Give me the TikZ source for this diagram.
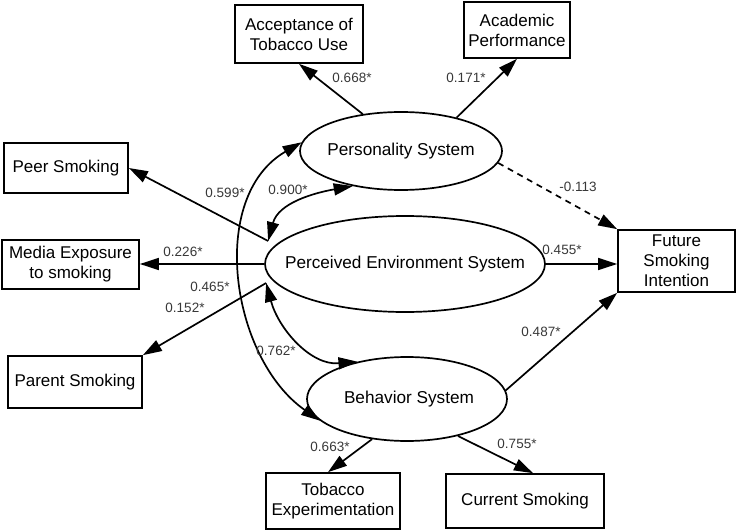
\documentclass[tikz,border=0pt]{standalone}
\usepackage{fontspec}
\setmainfont{Liberation Sans}
\usetikzlibrary{arrows.meta,shapes.geometric}
\begin{document}
\begin{tikzpicture}[x=1pt,y=1pt,
  box/.style={draw,line width=1.7pt,rectangle,inner sep=0pt,align=center,font=\fontsize{17}{20}\selectfont},
  lat/.style={draw,line width=1.7pt,ellipse,inner sep=0pt},
  lattext/.style={font=\fontsize{17.2}{20}\selectfont,inner sep=0pt},
  lab/.style={font=\fontsize{13.5}{16}\selectfont,text=black!78,inner sep=0pt},
  conn/.style={line width=1.7pt,-{Triangle[length=19pt,width=12pt]}},
  dconn/.style={line width=1.7pt,{Triangle[length=19pt,width=12pt]}-{Triangle[length=19pt,width=12pt]}}]
\useasboundingbox (0,0) rectangle (736,-532);

% boxes
\node[box,minimum width=128pt,minimum height=58pt] (acc) at (299,-34) {Acceptance of\\Tobacco Use};
\node[box,minimum width=106pt,minimum height=56pt] (acad) at (517,-30) {Academic\\Performance};
\node[box,minimum width=124pt,minimum height=50pt] (peer) at (66,-168) {Peer Smoking};
\node[box,minimum width=137pt,minimum height=49pt] (media) at (70.5,-264.5) {Media Exposure\\to smoking};
\node[box,minimum width=134pt,minimum height=52pt] (parent) at (75,-382) {Parent Smoking};
\node[box,minimum width=134pt,minimum height=56pt] (tobexp) at (333,-501) {Tobacco\\Experimentation};
\node[box,minimum width=158pt,minimum height=54pt] (cur) at (525,-501) {Current Smoking};
\node[box,minimum width=117pt,minimum height=62pt] (fut) at (676.5,-261) {Future\\Smoking\\Intention};

% latent ellipses
\node[lat,minimum width=202pt,minimum height=78pt] (pers) at (401,-151) {};
\node[lattext] (perst) at (pers) {Personality System};
\node[lat,minimum width=280pt,minimum height=96pt] (env) at (405,-264) {};
\node[lattext] (envt) at (env) {Perceived Environment System};
\node[lat,minimum width=200pt,minimum height=84pt] (beh) at (407,-399) {};
\node[lattext] (beht) at (409,-399) {Behavior System};

\coordinate (envUL) at ([shift={(4pt,23pt)}]env.west);
\coordinate (envLL) at ([shift={(2pt,-19pt)}]env.west);

% connectors
\draw[conn] (pers.136) -- (acc.south);
\draw[conn] (pers.31) -- (acad.south);
\draw[conn,dash pattern=on 6pt off 5pt] (pers.-7) -- (fut.north west);
\draw[conn] (env.east) -- (env.east -| fut.west);
\draw[conn] (beh.5) -- (fut.south west);
\draw[conn] (beh.-131) -- ([xshift=-5pt]tobexp.north);
\draw[conn] (beh.-36) -- ([xshift=8pt]cur.north);
\draw[conn] (envUL) -- (peer.east);
\draw[conn] (env.west) -- (env.west -| media.east);
\draw[conn] (envLL) -- (parent.north east);
\draw[dconn] (envUL) to[out=75,in=190] (pers.216);
\draw[dconn] (envLL) to[out=-75,in=185] (beh.143);
\draw[dconn] (pers.175) to[out=210,in=145] (beh.194);

% labels
\node[lab] (l1) at (352,-78) {0.668*};
\node[lab] (l2) at (466,-78) {0.171*};
\node[lab] (l3) at (578,-187) {-0.113};
\node[lab] (l4) at (562,-250) {0.455*};
\node[lab] (l5) at (541,-332) {0.487*};
\node[lab] (l6) at (517,-444) {0.755*};
\node[lab] (l7) at (330,-447) {0.663*};
\node[lab] (l8) at (276,-351) {0.762*};
\node[lab] (l9) at (185,-308) {0.152*};
\node[lab] (l10) at (210,-287) {0.465*};
\node[lab] (l11) at (183,-252) {0.226*};
\node[lab] (l12) at (225,-193) {0.599*};
\node[lab] (l13) at (288,-190) {0.900*};
\end{tikzpicture}
\end{document}
